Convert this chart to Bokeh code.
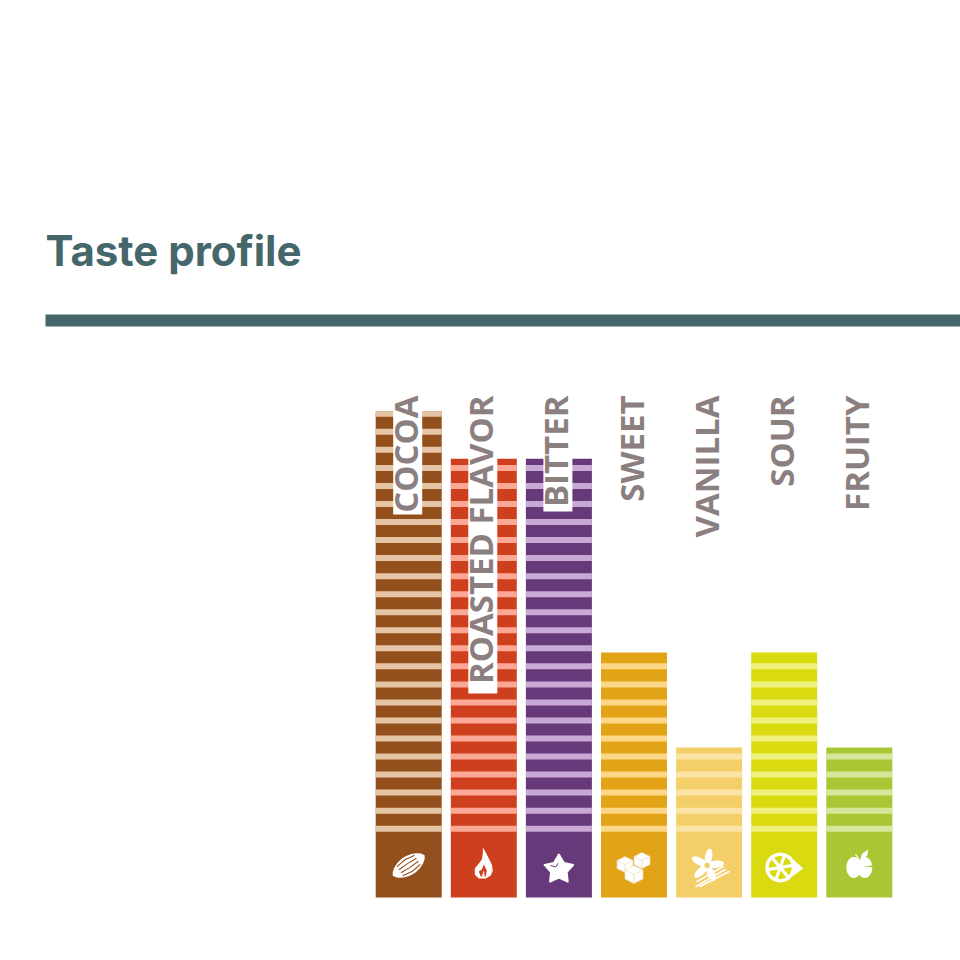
import math
from bokeh.plotting import figure
from bokeh.models import ColumnDataSource, Range1d
from bokeh.core.properties import value
from bokeh.embed import file_html
from bokeh.resources import INLINE

categories = ["COCOA", "ROASTED FLAVOR", "BITTER", "SWEET", "VANILLA", "SOUR", "FRUITY"]
scores = [99.8, 90.1, 90.1, 50.3, 30.8, 50.3, 30.8]
bar_colors = ["#93501C", "#CE3F1E", "#66397B", "#E3A316", "#F4CF69", "#D9DA10", "#A9C735"]
stripe_colors = ["#E6C4A6", "#FCA896", "#C9A9D5", "#FDD788", "#FBE4A6", "#F0F07C", "#D8E69C"]
backing_ends = [514, 693, 511, None, None, None, None]
title_text = "Taste profile"

PX_PER_SCORE = 4.87
PX_PER_BAR = 75.1
BASE_Y = 897.0
FIRST_X = 408.2
W = H = 960
ORIGIN = 0


def dx(px):
    return px / PX_PER_BAR


def dy(px):
    return -px / PX_PER_SCORE


def page_x(px):
    return (px - FIRST_X) / PX_PER_BAR


def page_y(py):
    return (BASE_Y - py) / PX_PER_SCORE


p = figure(width=W, height=H, output_backend="svg", toolbar_location=None,
           x_range=Range1d(page_x(ORIGIN), page_x(ORIGIN + W)), y_range=Range1d(page_y(ORIGIN + H), page_y(ORIGIN)),
           min_border=0, outline_line_color=None, background_fill_color="white")
p.axis.visible = False
p.grid.visible = False

xs = list(range(len(categories)))
p.vbar(x=xs, bottom=0, top=scores, width=66 / PX_PER_BAR, fill_color=bar_colors, line_color=None)

# stripes of the rating scale
first_stripe = (BASE_Y - 828.2) / PX_PER_SCORE
stripe_step = 18.04 / PX_PER_SCORE
half = 3.0 / PX_PER_SCORE
sl, sr, st, sb, sc = [], [], [], [], []
for i, v in enumerate(scores):
    k = 0
    while first_stripe + k * stripe_step - half < v:
        c = first_stripe + k * stripe_step
        sl.append(i - 33 / PX_PER_BAR)
        sr.append(i + 33 / PX_PER_BAR)
        st.append(min(v, c + half))
        sb.append(c - half)
        sc.append(stripe_colors[i])
        k += 1
p.quad(left=sl, right=sr, top=st, bottom=sb, fill_color=sc, line_color=None)

# title and rule
p.text(x=[page_x(45)], y=[page_y(250)], text=[title_text], text_color="#45666A",
       text_font=value("Inter"), text_font_style="bold", text_font_size="42px",
       text_baseline="middle", text_align="left")
p.quad(left=[page_x(45)], right=[page_x(ORIGIN + W)], top=[page_y(314)], bottom=[page_y(326)],
       fill_color="#45666A", line_color=None)


# icons
def shape(i, cy, pts, color="white", line=None, lw=1.0):
    xx = [i + dx(a) for a, b in pts]
    yy = [page_y(cy) + dy(b) for a, b in pts]
    p.patch(xx, yy, fill_color=color, line_color=line, line_width=lw, line_join="round")


def stroke(i, cy, pts, color, lw):
    xx = [i + dx(a) for a, b in pts]
    yy = [page_y(cy) + dy(b) for a, b in pts]
    p.line(xx, yy, line_color=color, line_width=lw, line_cap="round")


def oval(a, b, rx, ry, rot=0.0, n=28):
    c, s = math.cos(rot), math.sin(rot)
    out = []
    for t in range(n):
        u = 2 * math.pi * t / n
        ex, ey = rx * math.cos(u), ry * math.sin(u)
        out.append((a + ex * c - ey * s, b + ex * s + ey * c))
    return out


# cocoa pod
rot = math.radians(-33)
pod = []
for t in range(-10, 11):
    u = t / 10
    pod.append((u * 19, -9.5 * (1 - u * u) ** 0.7))
for t in range(10, -11, -1):
    u = t / 10
    pod.append((u * 19, 9.5 * (1 - u * u) ** 0.7))
rp = lambda a, b: (a * math.cos(rot) - b * math.sin(rot), a * math.sin(rot) + b * math.cos(rot))
shape(0, 865, [rp(a, b) for a, b in pod])
for off in (-5.5, -1.8, 1.8, 5.5):
    stroke(0, 865, [rp(-10, off), rp(0, off * 1.25), rp(10, off)], bar_colors[0], 1.1)

# flame
flame = [(-1, -16), (2, -11), (5, -5), (8, 1), (9, 7), (7, 12), (2, 15), (-5, 15), (-9, 11), (-9, 5), (-5, 0),
         (-2, -4), (-1, -10)]
shape(1, 863, flame)
shape(1, 863, [(0, 1), (3, 7), (2, 13), (-3, 13), (-5, 8), (-2, 6)], bar_colors[1])
shape(1, 863, [(0, 7), (1, 13), (-2, 13)])

# star
star = []
for t in range(10):
    r = 15 if t % 2 == 0 else 8.2
    a = -math.pi / 2 + t * math.pi / 5
    star.append((r * math.cos(a), r * math.sin(a)))
shape(2, 869, star, "white", "white", 2.0)
stroke(2, 869, [(-8, -4), (-3, -2.5), (-1, -6)], bar_colors[2], 1.0)


# sugar cubes
def cube(a, b, s):
    shape(3, 867, [(a, b - s), (a + s, b - s / 2), (a + s, b + s / 2), (a, b + s), (a - s, b + s / 2),
                   (a - s, b - s / 2)], "white", "#EBD9B5", 0.7)
    stroke(3, 867, [(a - s, b - s / 2), (a, b), (a + s, b - s / 2)], "#EBD9B5", 0.7)
    stroke(3, 867, [(a, b), (a, b + s)], "#EBD9B5", 0.7)


cube(-9, -3, 8)
cube(8, -7, 8)
cube(0, 7, 9)

# vanilla flower and pods
for start, end in [((-13, 18), (16, 1)), ((-9, 18), (20, 3)), ((-12, 13), (14, -2))]:
    stroke(4, 868, [start, end], "white", 1.6)
for ang in (-90, -18, 54, 126, 198):
    a = math.radians(ang + 10)
    shape(4, 868, oval(-2 + 8.5 * math.cos(a), -3 + 8.5 * math.sin(a), 8.5, 3.6, a))
shape(4, 868, oval(-2, -3, 2.8, 2.8), bar_colors[4])

# lemon
lemon = [(x2, y2) for x2, y2 in oval(-4, 0, 15, 15) if x2 < 8] + [(8, -10), (19, 1), (8, 9)]
lemon.sort(key=lambda q: math.atan2(q[1], q[0] + 4))
shape(5, 867, lemon)
for ang in range(0, 360, 60):
    a = math.radians(ang + 20)
    inner = [(-4 + 3 * math.cos(a), 3 * math.sin(a))]
    rim = [(-4 + 11.5 * math.cos(a + t), 11.5 * math.sin(a + t)) for t in (-0.38, -0.18, 0, 0.18, 0.38)]
    shape(5, 867, inner + rim, bar_colors[5])

# apple
shape(6, 865, oval(-5.5, 2, 7.5, 10.5) + oval(5.5, 2, 7.5, 10.5))
shape(6, 865, [(-4, -7), (0, -5), (4, -7), (4, 6), (-4, 6)])
shape(6, 865, [(1, -7), (3, -12), (9, -16), (8, -10), (4, -7)])
stroke(6, 865, [(-0.5, -6), (-3.5, -11)], "white", 1.4)

# labels: the three that cross their bars sit on a narrow white backing
label_y = page_y(395)
for i, end in enumerate(backing_ends):
    if end is None:
        continue
    p.quad(left=[i - dx(15.5)], right=[i + dx(13.5)], top=[label_y], bottom=[page_y(end)],
           fill_color="white", line_color=None)

src = ColumnDataSource(dict(x=[i - dx(3) for i in xs], y=[label_y] * len(xs), text=categories))
p.text(x="x", y="y", text="text", source=src, angle=math.pi / 2, text_align="right",
       text_baseline="middle", text_color="#8C7F80", text_font=value("Open Sans"),
       text_font_style="bold", text_font_size="33px")

open("out.html", "w").write(file_html(p, INLINE))
